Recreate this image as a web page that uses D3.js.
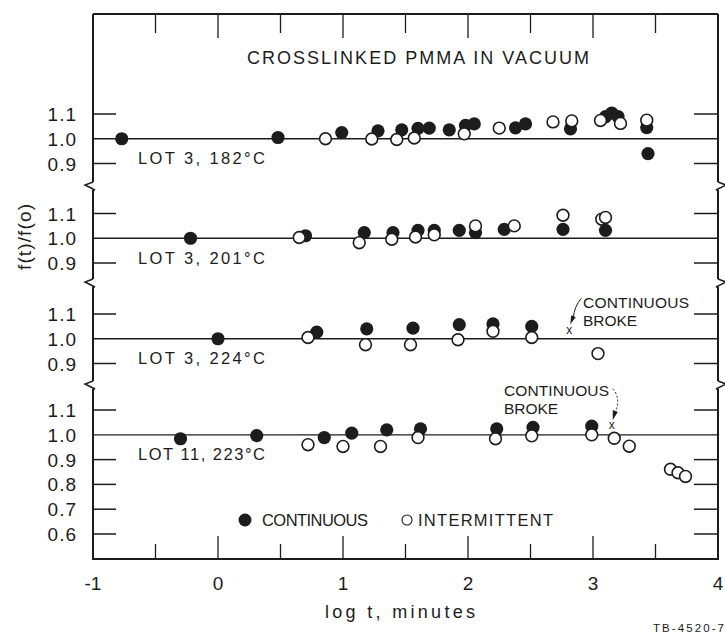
<!DOCTYPE html>
<html><head><meta charset="utf-8">
<script src="https://cdn.jsdelivr.net/npm/d3@7"></script>
<style>
html,body{margin:0;padding:0;background:#fff;}
svg{display:block;}
text{font-family:"Liberation Sans",Arial,sans-serif;fill:#1c1c1c;}
</style></head><body>
<svg id="chart" width="725" height="635"></svg>
<script>
// x axis: log t (minutes)
const xMajorTicks = [-1, 0, 1, 2, 3, 4];
const xMinorTicks = [-0.5, 0.5, 1.5, 2.5, 3.5];
const xTickLabels = ["-1", "0", "1", "2", "3", "4"];

// y ticks of each panel, f(t)/f(o)
const yTicksShort = [1.1, 1.0, 0.9];
const yTicksLong = [1.1, 1.0, 0.9, 0.8, 0.7, 0.6];
const yTickLabelsShort = ["1.1", "1.0", "0.9"];
const yTickLabelsLong = ["1.1", "1.0", "0.9", "0.8", "0.7", "0.6"];

const panelLabels = ["LOT 3, 182°C", "LOT 3, 201°C", "LOT 3, 224°C", "LOT 11, 223°C"];

// [log t, f(t)/f(o)]
const lot3_182_continuous = [[-0.77,1.000],[0.48,1.005],[0.99,1.025],[1.28,1.032],[1.47,1.036],[1.60,1.042],[1.69,1.043],[1.85,1.036],[1.98,1.054],[2.05,1.060],[2.38,1.044],[2.46,1.060],[2.82,1.040],[3.10,1.089],[3.15,1.104],[3.20,1.090],[3.43,1.045],[3.44,0.940]];
const lot3_182_intermittent = [[0.86,1.000],[1.23,0.999],[1.43,0.997],[1.57,1.003],[1.97,1.020],[2.25,1.043],[2.68,1.068],[2.83,1.072],[3.06,1.074],[3.22,1.062],[3.43,1.075]];

const lot3_201_continuous = [[-0.22,1.000],[0.70,1.010],[1.17,1.023],[1.40,1.023],[1.60,1.032],[1.73,1.032],[1.93,1.032],[2.06,1.023],[2.29,1.036],[2.76,1.036],[3.10,1.032]];
const lot3_201_intermittent = [[0.65,1.003],[1.13,0.982],[1.39,0.996],[1.58,1.005],[1.73,1.014],[2.06,1.050],[2.37,1.050],[2.76,1.093],[3.07,1.077],[3.10,1.084]];

const lot3_224_continuous = [[0.00,1.000],[0.79,1.027],[1.19,1.040],[1.56,1.043],[1.93,1.057],[2.20,1.060],[2.51,1.050]];
const lot3_224_intermittent = [[0.72,1.005],[1.18,0.976],[1.54,0.976],[1.92,0.996],[2.20,1.030],[2.51,1.005],[3.04,0.940]];
const lot3_224_broke = [[2.81,1.034]];

const lot11_223_continuous = [[-0.30,0.984],[0.31,0.997],[0.85,0.989],[1.07,1.007],[1.35,1.020],[1.62,1.024],[2.23,1.024],[2.52,1.030],[2.99,1.035]];
const lot11_223_intermittent = [[0.72,0.960],[1.00,0.953],[1.30,0.953],[1.60,0.989],[2.22,0.984],[2.51,0.996],[2.99,1.000],[3.17,0.986],[3.29,0.954],[3.62,0.861],[3.68,0.847],[3.74,0.832]];
const lot11_223_broke = [[3.15,1.040]];

const svg = d3.select("#chart");
const ink = "#1c1c1c";

const plotLeft = 93, plotRight = 718, plotTop = 14, plotBottom = 559;
const x = d3.scaleLinear().domain([-1, 4]).range([plotLeft, plotRight]);

// one vertical scale per stacked panel (same 0.1-per-step size)
const panels = [
  {label: panelLabels[0], cont: lot3_182_continuous, inter: lot3_182_intermittent, broke: [], ticks: yTicksShort, tickLabels: yTickLabelsShort, y: d3.scaleLinear().domain([0.9, 1.1]).range([163.5, 114])},
  {label: panelLabels[1], cont: lot3_201_continuous, inter: lot3_201_intermittent, broke: [], ticks: yTicksShort, tickLabels: yTickLabelsShort, y: d3.scaleLinear().domain([0.9, 1.1]).range([263, 213.5])},
  {label: panelLabels[2], cont: lot3_224_continuous, inter: lot3_224_intermittent, broke: lot3_224_broke, ticks: yTicksShort, tickLabels: yTickLabelsShort, y: d3.scaleLinear().domain([0.9, 1.1]).range([363.5, 314])},
  {label: panelLabels[3], cont: lot11_223_continuous, inter: lot11_223_intermittent, broke: lot11_223_broke, ticks: yTicksLong, tickLabels: yTickLabelsLong, y: d3.scaleLinear().domain([0.6, 1.1]).range([534, 410])}
];

// ---- frame with axis breaks ----
const breaks = [186, 283, 385];
const frame = svg.append("g").attr("stroke", ink).attr("fill", "none").attr("stroke-width", 2);
frame.append("line").attr("x1", plotLeft).attr("x2", plotRight).attr("y1", plotTop).attr("y2", plotTop);
frame.append("line").attr("x1", plotLeft - 1).attr("x2", plotRight + 1).attr("y1", plotBottom).attr("y2", plotBottom);
const segStarts = [plotTop].concat(breaks.map(b => b + 4));
const segEnds = breaks.map(b => b - 4).concat([plotBottom]);
[plotLeft, plotRight].forEach((ax, side) => {
  segStarts.forEach((s, i) => {
    frame.append("line").attr("x1", ax).attr("x2", ax).attr("y1", s).attr("y2", segEnds[i]);
  });
  const dir = side === 0 ? -1 : 1;
  // zigzag break mark
  breaks.forEach(b => {
    frame.append("path")
      .attr("stroke-width", 1.5)
      .attr("d", `M${ax},${b - 4} L${ax + dir * 8},${b - 1} L${ax - dir * 2},${b + 4} L${ax},${b + 4}`);
  });
});

// ---- x ticks top and bottom ----
const tickG = svg.append("g").attr("stroke", ink).attr("stroke-width", 1.3);
xMajorTicks.slice(1, -1).forEach(v => {
  tickG.append("line").attr("x1", x(v)).attr("x2", x(v)).attr("y1", plotBottom).attr("y2", plotBottom - 23);
  tickG.append("line").attr("x1", x(v)).attr("x2", x(v)).attr("y1", plotTop).attr("y2", plotTop + 24);
});
xMinorTicks.forEach(v => {
  tickG.append("line").attr("x1", x(v)).attr("x2", x(v)).attr("y1", plotBottom).attr("y2", plotBottom - 15);
  tickG.append("line").attr("x1", x(v)).attr("x2", x(v)).attr("y1", plotTop).attr("y2", plotTop + 19);
});

svg.append("g").selectAll("text").data(xMajorTicks).join("text")
  .attr("x", d => x(d)).attr("y", 590)
  .attr("text-anchor", "middle").attr("font-size", 19)
  .text((d, i) => xTickLabels[i]);

svg.append("text").attr("x", 400).attr("y", 618).attr("text-anchor", "middle")
  .attr("font-size", 18).attr("textLength", 150).attr("lengthAdjust", "spacing")
  .text("log t, minutes");

svg.append("text").attr("x", 724).attr("y", 632).attr("text-anchor", "end")
  .attr("font-size", 11.5).attr("textLength", 71).attr("lengthAdjust", "spacing")
  .text("TB-4520-7");

// y axis title
svg.append("text").attr("transform", "translate(31,237) rotate(-90)")
  .attr("text-anchor", "middle").attr("font-size", 19).attr("textLength", 66).attr("lengthAdjust", "spacing")
  .text("f(t)/f(o)");

// chart title
svg.append("text").attr("x", 418).attr("y", 64).attr("text-anchor", "middle")
  .attr("font-size", 18).attr("textLength", 342).attr("lengthAdjust", "spacing")
  .text("CROSSLINKED PMMA IN VACUUM");

// ---- panels ----
panels.forEach(p => {
  const g = svg.append("g");
  // y ticks on both sides, full reference line at 1.0
  p.ticks.forEach((v, i) => {
    if (v === 1.0) {
      g.append("line").attr("x1", plotLeft).attr("x2", plotRight).attr("y1", p.y(v)).attr("y2", p.y(v))
        .attr("stroke", ink).attr("stroke-width", 1.3);
    } else {
      g.append("line").attr("x1", plotLeft).attr("x2", plotLeft + 23).attr("y1", p.y(v)).attr("y2", p.y(v))
        .attr("stroke", ink).attr("stroke-width", 1.5);
      g.append("line").attr("x1", plotRight - 24).attr("x2", plotRight).attr("y1", p.y(v)).attr("y2", p.y(v))
        .attr("stroke", ink).attr("stroke-width", 1.5);
    }
    g.append("text").attr("x", 77).attr("y", p.y(v) + 7).attr("text-anchor", "end")
      .attr("font-size", 19).attr("letter-spacing", 1).text(p.tickLabels[i]);
  });
  g.append("text").attr("x", 138).attr("y", p.y(0.9) + 0.5).attr("font-size", 16.5)
    .attr("textLength", 127).attr("lengthAdjust", "spacing").text(p.label);

  g.append("g").selectAll("circle").data(p.cont).join("circle")
    .attr("cx", d => x(d[0])).attr("cy", d => p.y(d[1])).attr("r", 6.6).attr("fill", ink);
  g.append("g").selectAll("circle").data(p.inter).join("circle")
    .attr("cx", d => x(d[0])).attr("cy", d => p.y(d[1])).attr("r", 5.9)
    .attr("fill", "#fff").attr("stroke", ink).attr("stroke-width", 1.6);
  g.append("g").selectAll("text").data(p.broke).join("text")
    .attr("x", d => x(d[0])).attr("y", d => p.y(d[1]) + 4).attr("text-anchor", "middle")
    .attr("font-size", 12).text("x");
});

// ---- "CONTINUOUS BROKE" notes ----
const p3 = panels[2], p4 = panels[3];
const b3 = lot3_224_broke[0], b4 = lot11_223_broke[0];
svg.append("text").attr("x", 583).attr("y", 308).attr("font-size", 15.5)
  .attr("textLength", 106).attr("lengthAdjust", "spacing").text("CONTINUOUS");
svg.append("text").attr("x", 583).attr("y", 326).attr("font-size", 15.5)
  .attr("textLength", 54).attr("lengthAdjust", "spacing").text("BROKE");
svg.append("path").attr("fill", "none").attr("stroke", ink).attr("stroke-width", 1)
  .attr("d", `M${x(b3[0]) + 12},${p3.y(b3[1]) - 32} Q${x(b3[0]) + 5},${p3.y(b3[1]) - 24} ${x(b3[0]) + 4},${p3.y(b3[1]) - 12}`);
svg.append("path").attr("fill", ink)
  .attr("d", `M${x(b3[0]) + 1},${p3.y(b3[1]) - 6} L${x(b3[0]) + 2},${p3.y(b3[1]) - 15} L${x(b3[0]) + 6.5},${p3.y(b3[1]) - 13} Z`);

svg.append("text").attr("x", 504).attr("y", 396).attr("font-size", 15.5)
  .attr("textLength", 105).attr("lengthAdjust", "spacing").text("CONTINUOUS");
svg.append("text").attr("x", 504).attr("y", 414).attr("font-size", 15.5)
  .attr("textLength", 54).attr("lengthAdjust", "spacing").text("BROKE");
svg.append("path").attr("fill", "none").attr("stroke", ink).attr("stroke-width", 1).attr("stroke-dasharray", "2,2")
  .attr("d", `M${x(b4[0]) + 1},${p4.y(b4[1]) - 36} Q${x(b4[0]) + 9},${p4.y(b4[1]) - 28} ${x(b4[0]) + 4},${p4.y(b4[1]) - 13}`);
svg.append("path").attr("fill", ink)
  .attr("d", `M${x(b4[0]) + 1},${p4.y(b4[1]) - 5} L${x(b4[0]) + 1},${p4.y(b4[1]) - 15} L${x(b4[0]) + 6},${p4.y(b4[1]) - 13} Z`);

// ---- legend ----
const leg = svg.append("g");
leg.append("circle").attr("cx", 245).attr("cy", 520).attr("r", 6.5).attr("fill", ink);
leg.append("text").attr("x", 262).attr("y", 526).attr("font-size", 16.5)
  .attr("textLength", 106).attr("lengthAdjust", "spacing").text("CONTINUOUS");
leg.append("circle").attr("cx", 407).attr("cy", 520).attr("r", 5).attr("fill", "#fff")
  .attr("stroke", ink).attr("stroke-width", 1.1);
leg.append("text").attr("x", 418).attr("y", 526).attr("font-size", 16.5)
  .attr("textLength", 135).attr("lengthAdjust", "spacing").text("INTERMITTENT");
</script>
</body></html>
